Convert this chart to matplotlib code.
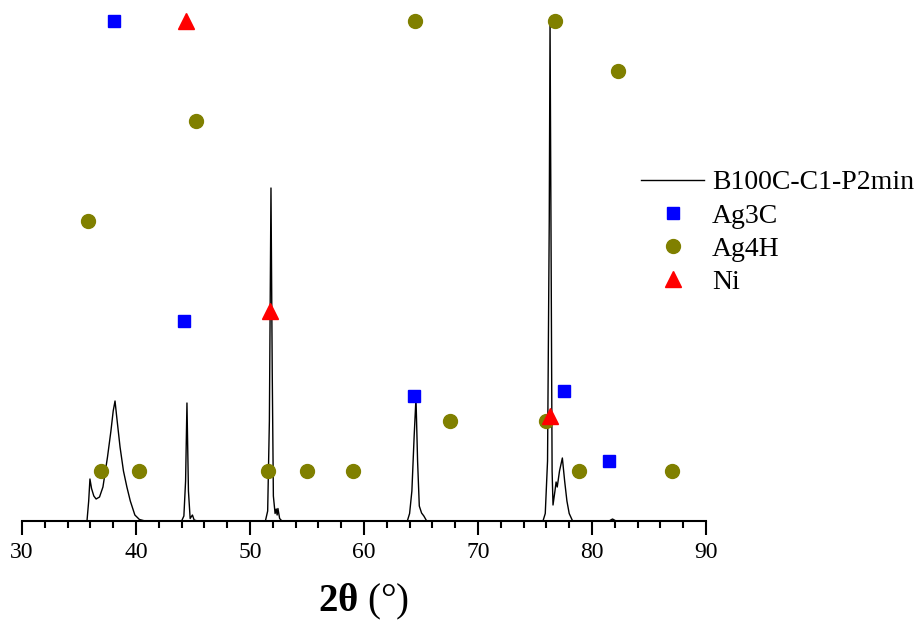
import numpy as np
import matplotlib
matplotlib.use("Agg")
import matplotlib.pyplot as plt

plt.rcParams['font.family'] = ['Liberation Serif', 'DejaVu Serif']
plt.rcParams['mathtext.fontset'] = 'custom'
plt.rcParams['mathtext.rm'] = 'Liberation Serif'
plt.rcParams['mathtext.bf'] = 'Liberation Serif:bold'

# measured XRD pattern (2theta, intensity in arbitrary units)
two_theta = [30.0, 35.7, 35.85, 35.96, 36.1, 36.3, 36.5, 36.8, 37.1, 37.5, 37.8, 38.0,
             38.16, 38.3, 38.6, 38.9, 39.2, 39.5, 39.9, 40.3, 40.8,
             44.0, 44.2, 44.35, 44.47, 44.6, 44.75, 44.95, 45.1, 45.4,
             51.35, 51.55, 51.7, 51.84, 51.95, 52.05, 52.2, 52.3, 52.38, 52.45, 52.6, 52.8,
             63.8, 64.0, 64.2, 64.4, 64.56, 64.7, 64.85, 65.05, 65.25, 65.5,
             75.7, 75.9, 76.1, 76.25, 76.32, 76.4, 76.5, 76.58, 76.75, 76.85, 76.95,
             77.15, 77.4, 77.6, 77.8, 78.0, 78.3,
             81.5, 81.8, 82.1, 90.0]
intensity = [0, 0, 4, 8.4, 6.5, 5.0, 4.4, 4.8, 6.8, 12.8, 18, 22,
             24, 21, 14.8, 10, 6.8, 4, 1.2, 0.3, 0,
             0, 1, 8, 23.6, 6, 0.5, 1.2, 0.2, 0,
             0, 2, 20, 66.6, 30, 5, 1.5, 2.4, 1.2, 2.5, 0.5, 0,
             0, 1.5, 6, 17, 24.6, 12, 3, 1.6, 1.0, 0,
             0, 1.5, 12, 60, 100, 60, 10, 3.2, 6, 7.8, 6.8,
             10, 12.6, 8, 4, 1.5, 0,
             0, 0.4, 0, 0]

# reference phase markers
ag3c_x = [38.1, 44.2, 64.4, 77.5, 81.5]
ag3c_y = [100, 40, 25, 26, 12]

ag4h_x = [35.8, 36.9, 40.3, 45.3, 51.6, 55.0, 59.0, 64.5, 67.5, 76.0, 76.75, 78.9, 82.3, 87.0]
ag4h_y = [60, 10, 10, 80, 10, 10, 10, 100, 20, 20, 100, 10, 90, 10]

ni_x = [44.4, 51.75, 76.3]
ni_y = [100, 42, 21]

fig = plt.figure(figsize=(9.23, 6.21), dpi=100)
ax = fig.add_axes([22 / 923, 100 / 621, 684 / 923, 510 / 621])

ax.plot(two_theta, intensity, color='black', lw=1.0, label='B100C-C1-P2min')
ax.plot(ag3c_x, ag3c_y, ls='none', marker='s', ms=8.5, color='#0000ff',
        label='Ag3C', clip_on=False)
ax.plot(ag4h_x, ag4h_y, ls='none', marker='o', ms=10, color='#808000',
        label='Ag4H', clip_on=False)
ax.plot(ni_x, ni_y, ls='none', marker='^', ms=11, color='#ff0000',
        label='Ni', clip_on=False)

ax.set_xlim(30, 90)
ax.set_ylim(0, 102)

# only the bottom axis is shown
for s in ['top', 'left', 'right']:
    ax.spines[s].set_visible(False)
ax.spines['bottom'].set_linewidth(1.5)
ax.set_yticks([])
ax.set_xticks(np.arange(30, 91, 10))
ax.set_xticks(np.arange(30, 91, 2), minor=True)
ax.tick_params(axis='x', which='major', direction='out', length=10, width=1.5,
               labelsize=17, pad=5)
ax.tick_params(axis='x', which='minor', direction='out', length=5, width=1.5)

ax.set_xlabel(r'$\mathbf{2\theta}$ (°)', fontsize=28, labelpad=14)

ax.legend(loc='upper left', bbox_to_anchor=(641 / 923, 1 - 170 / 621),
          bbox_transform=fig.transFigure, frameon=False, fontsize=20,
          handlelength=2.27, handletextpad=0.29, borderpad=0, borderaxespad=0,
          labelspacing=0.28)

fig.savefig('out.png', dpi=100)
